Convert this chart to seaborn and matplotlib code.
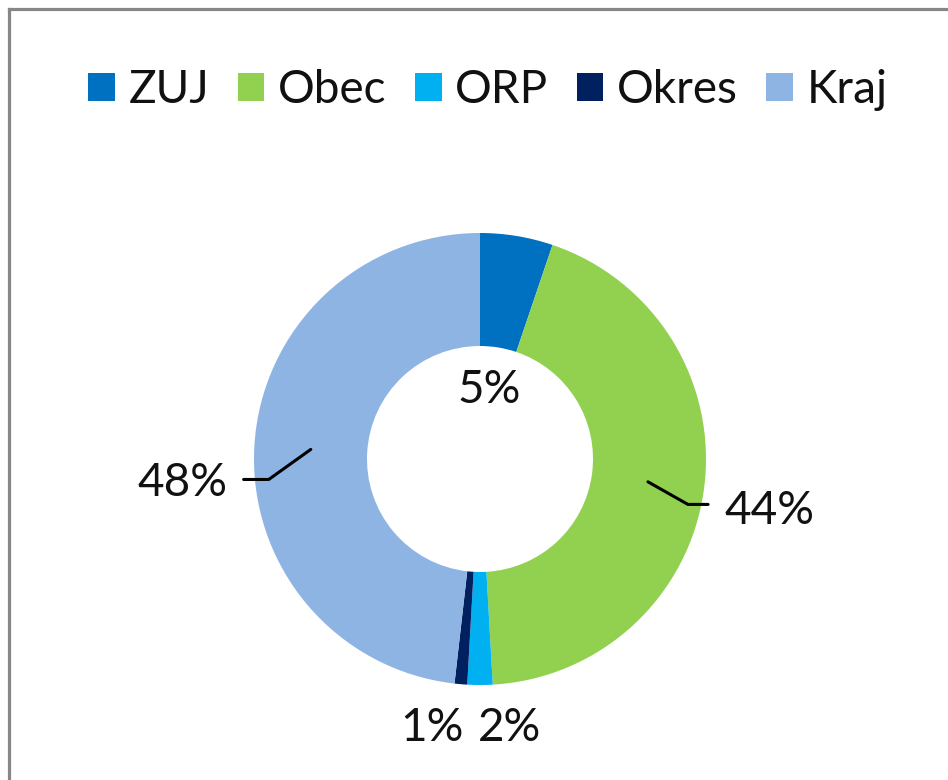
import numpy as np
import matplotlib
matplotlib.use("Agg")
import matplotlib.pyplot as plt
import seaborn as sns
from matplotlib.patches import Patch
from matplotlib.lines import Line2D

# data
kategorie = ["ZUJ", "Obec", "ORP", "Okres", "Kraj"]
podily = [5.2, 43.9, 1.8, 0.9, 48.2]
barvy = ["#0070C0", "#92D050", "#00B0F0", "#002060", "#8EB4E3"]

sns.set_theme(style="white")
plt.rcParams["font.family"] = ["Lato", "DejaVu Sans"]

fig = plt.figure(figsize=(9.48, 7.8), dpi=100)
ax = fig.add_axes([0, 0, 1, 1])

wedges, _ = ax.pie(podily, colors=sns.color_palette(barvy), startangle=90,
                   counterclock=False, radius=1.0,
                   wedgeprops=dict(width=0.5, linewidth=0))

# pie centre at (480, 459) px, radius 226 px
R = 226.0
ax.set_xlim(-480 / R, (948 - 480) / R)
ax.set_ylim(-(780 - 459) / R, 459 / R)
ax.axis("off")

fs = 33
stitky = [f"{p:.0f}%" for p in podily]

def smer(w, r):
    a = np.deg2rad((w.theta1 + w.theta2) / 2)
    return r * np.cos(a), r * np.sin(a)

# ZUJ - label sits in the hole
x, y = smer(wedges[0], 0.31)
ax.text(x - 0.01, y, stitky[0], ha="center", va="center", fontsize=fs, color="#111111")

# Obec - leader line to the right
x0, y0 = smer(wedges[1], 0.75)
ax.add_line(Line2D([x0, x0 + 0.177, x0 + 0.266], [y0, y0 - 0.10, y0 - 0.10],
                   color="black", lw=2.2))
ax.text(x0 + 0.34, y0 - 0.13, stitky[1], ha="left", va="center", fontsize=fs, color="#111111")

# Kraj - leader line to the left
x0, y0 = smer(wedges[4], 0.75)
ax.add_line(Line2D([x0, x0 - 0.186, x0 - 0.297], [y0, y0 - 0.133, y0 - 0.133],
                   color="black", lw=2.2))
ax.text(x0 - 0.37, y0 - 0.15, stitky[4], ha="right", va="center", fontsize=fs, color="#111111")

# ORP and Okres - under the ring
x, y = smer(wedges[2], 1.0)
ax.text(x + 0.13, -1.19, stitky[2], ha="center", va="center", fontsize=fs, color="#111111")
x, y = smer(wedges[3], 1.0)
ax.text(x - 0.13, -1.19, stitky[3], ha="center", va="center", fontsize=fs, color="#111111")

# legend on top
uchyty = [Patch(facecolor=c, edgecolor="none") for c in barvy]
fig.legend(uchyty, kategorie, loc="center", bbox_to_anchor=(488 / 948, 1 - 90 / 780),
           ncol=5, frameon=False, fontsize=fs, handlelength=0.58, handleheight=0.58,
           handletextpad=0.3, columnspacing=0.62, borderpad=0, labelcolor="#111111")

# grey frame (only left and top edge visible)
ramecek = "#878787"
fig.add_artist(Line2D([8.5 / 948, 8.5 / 948], [0, 1 - 8.5 / 780], transform=fig.transFigure,
                      color=ramecek, lw=2.3, solid_capstyle="projecting"))
fig.add_artist(Line2D([8.5 / 948, 1], [1 - 8.5 / 780, 1 - 8.5 / 780], transform=fig.transFigure,
                      color=ramecek, lw=2.3, solid_capstyle="projecting"))

fig.savefig("out.png", dpi=100, facecolor="white")
